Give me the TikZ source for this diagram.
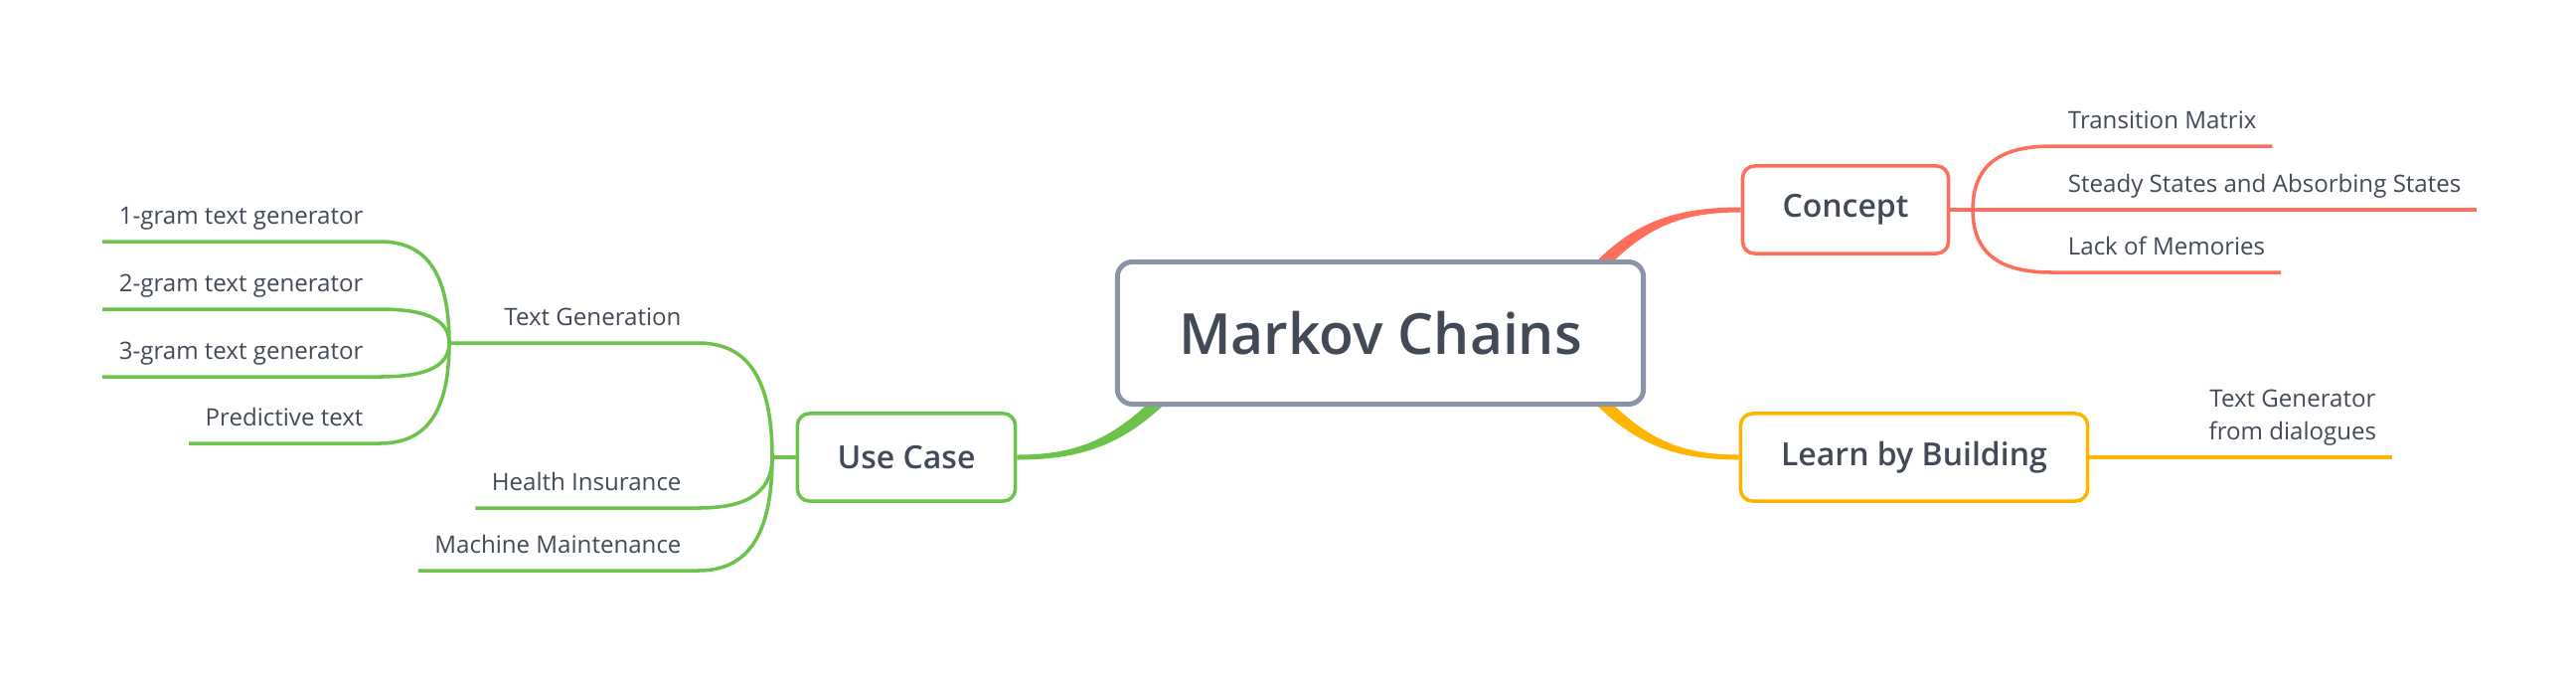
\documentclass[tikz,border=0pt]{standalone}
\usepackage{fontspec}
\setmainfont{Open Sans}
\newfontfamily\semifont{Open Sans}[UprightFont=* Semibold]
\usepackage{tikz}
\usetikzlibrary{calc,backgrounds}
\definecolor{MCRed}   {HTML}{FF6E5A}
\definecolor{MCYellow}{HTML}{FFB400}
\definecolor{MCGreen} {HTML}{6CC24A}
\definecolor{MCSlate} {HTML}{8A94A6}
\definecolor{MCText}  {HTML}{414A56}

\begin{document}
\begin{tikzpicture}[x=0.01cm,y=-0.01cm,
    root/.style={draw=MCSlate,line width=1.4pt,rounded corners=0.15cm,fill=white,minimum width=5.29cm,minimum height=1.43cm,inner sep=0pt,text=MCText,font=\semifont\fontsize{16.2}{20}\selectfont},
    topic/.style={draw=#1,line width=1pt,rounded corners=0.12cm,fill=white,minimum height=0.88cm,inner sep=0pt,text=MCText,font=\semifont\fontsize{9.1}{11}\selectfont},
    leaf/.style={inner xsep=4.3pt,inner ysep=4.8pt,text depth=0pt,text=MCText,font=\fontsize{6.85}{9.4}\selectfont},
    leafl/.style={leaf,inner xsep=4.5pt,anchor=south east},
    trunk/.style={fill=#1},
    twig/.style={draw=#1,line width=1pt},
    branch/.style={to path={.. controls ($(\tikztostart)!0.8!(\tikztostart|-\tikztotarget)$) and ($(\tikztotarget)!0.55!(\tikztostart|-\tikztotarget)$) .. (\tikztotarget)}}
  ]
    \useasboundingbox (0,0) rectangle (2592,678);
    % main topics
    \node[root](mc) at (1389,335) {Markov Chains};
    \node[topic=MCRed,minimum width=2.07cm](cp) at (1857,211) {Concept};
    \node[topic=MCYellow,minimum width=3.49cm](lb) at (1926,460) {Learn by Building};
    \node[topic=MCGreen,minimum width=2.19cm](uc) at (912,460) {Use Case};
    % leaves
    \node[leaf,anchor=south west](tm) at (2065,147) {Transition Matrix};
    \node[leaf,anchor=south west](ss) at (2065,211) {Steady States and Absorbing States};
    \node[leaf,anchor=south west](lm) at (2065,274) {Lack of Memories};
    \node[leaf,anchor=south east,align=center](td) at (2407,460) {Text Generator\\from dialogues};
    \node[leafl](tg) at (702,345) {Text Generation};
    \node[leafl](hi) at (702,511) {Health Insurance};
    \node[leafl](mm) at (702,574) {Machine Maintenance};
    \node[leafl](g1) at (382,243) {1-gram text generator};
    \node[leafl](g2) at (382,311) {2-gram text generator};
    \node[leafl](g3) at (382,379) {3-gram text generator};
    \node[leafl](pt) at (382,446) {Predictive text};
    % forks
    \coordinate(fc) at (1985,211);
    \coordinate(fu) at (777,460);
    \coordinate(ft) at (452,345);
    \coordinate(rs) at (1606,272);
    \coordinate(ys) at (1606,398);
    \coordinate(gs) at (1172,398);
    \begin{scope}[on background layer]
      % tapered trunks
      \fill[trunk=MCRed]($(rs)+(4.5,4)$) .. controls (1654.5,229) and (1690,213.5) .. ($(cp.west)+(0,2.5)$)
        --($(cp.west)+(0,-2.5)$) .. controls (1690,208.5) and (1645.5,221) .. ($(rs)+(-4.5,-4)$)--cycle;
      \fill[trunk=MCYellow]($(ys)+(4.5,-4)$) .. controls (1654.5,441) and (1690,457.5) .. ($(lb.west)+(0,-2.5)$)
        --($(lb.west)+(0,2.5)$) .. controls (1690,462.5) and (1645.5,449) .. ($(ys)+(-4.5,4)$)--cycle;
      \fill[trunk=MCGreen]($(gs)+(4.2,4.2)$) .. controls (1129,449) and (1085,462.5) .. ($(uc.east)+(0,2.5)$)
        --($(uc.east)+(0,-2.5)$) .. controls (1085,457.5) and (1121,441) .. ($(gs)+(-4.2,-4.2)$)--cycle;
      \draw[twig=MCRed](cp.east)--(fc)--(ss.south west)--(ss.south east);
      \draw[twig=MCRed](fc) to[branch] (tm.south west)--(tm.south east);
      \draw[twig=MCRed](fc) to[branch] (lm.south west)--(lm.south east);
      \draw[twig=MCYellow](lb.east)--(td.south east);
      \draw[twig=MCGreen](uc.west)--(fu);
      \draw[twig=MCGreen](fu) to[branch] (tg.south east)--(tg.south west)--(ft);
      \draw[twig=MCGreen](fu) to[branch] (hi.south east)--(hi.south west);
      \draw[twig=MCGreen](fu) to[branch] (mm.south east)--(mm.south west);
      \foreach \n in {g1,g2,g3,pt}
        \draw[twig=MCGreen](ft) to[branch] (\n.south east)--(\n.south west);
    \end{scope}
  \end{tikzpicture}
\end{document}
